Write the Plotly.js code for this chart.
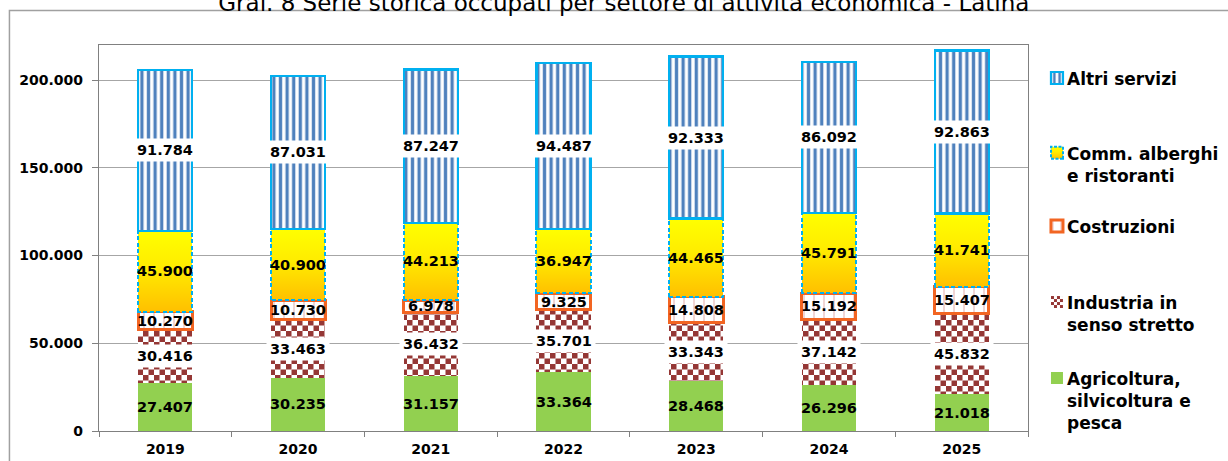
<!DOCTYPE html>
<html>
<head>
<meta charset="utf-8">
<script src="https://cdn.plot.ly/plotly-3.0.1.min.js"></script>
<style>
html,body{margin:0;padding:0;background:#fff;}
#chart{width:1228px;height:461px;}
</style>
</head>
<body>
<svg width="0" height="0" style="position:absolute;left:0;top:0">
  <defs>
    <pattern id="chk" patternUnits="userSpaceOnUse" width="11" height="11">
      <rect width="11" height="11" fill="#ffffff"/>
      <rect x="0" y="0" width="5.5" height="5.5" fill="#953735"/>
      <rect x="5.5" y="5.5" width="5.5" height="5.5" fill="#953735"/>
    </pattern>
    <pattern id="chkLeg" patternUnits="userSpaceOnUse" width="6" height="6">
      <rect width="6" height="6" fill="#ffffff"/>
      <rect x="0" y="0" width="3" height="3" fill="#953735"/>
      <rect x="3" y="3" width="3" height="3" fill="#953735"/>
    </pattern>
    <linearGradient id="grad" x1="0" y1="0" x2="0" y2="1">
      <stop offset="0" stop-color="#FFFF00"/>
      <stop offset="0.45" stop-color="#FFEC00"/>
      <stop offset="1" stop-color="#FFC000"/>
    </linearGradient>
  </defs>
</svg>
<div id="chart"></div>
<script>
// ---- data ----
const years = ['2019', '2020', '2021', '2022', '2023', '2024', '2025'];
const agricoltura = [27407, 30235, 31157, 33364, 28468, 26296, 21018];
const industria = [30416, 33463, 36432, 35701, 33343, 37142, 45832];
const costruzioni = [10270, 10730, 6978, 9325, 14808, 15192, 15407];
const commercio = [45900, 40900, 44213, 36947, 44465, 45791, 41741];
const altriServizi = [91784, 87031, 87247, 94487, 92333, 86092, 92863];
const seriesNames = [
  'Agricoltura,<br>silvicoltura e<br>pesca',
  'Industria in<br>senso stretto',
  'Costruzioni',
  'Comm. alberghi<br>e ristoranti',
  'Altri servizi'
];
const yTicks = [0, 50000, 100000, 150000, 200000];
const yTickLabels = ['0', '50.000', '100.000', '150.000', '200.000'];
const chartTitle = 'Graf. 8 Serie storica occupati per settore di attività economica - Latina';

// ---- helpers ----
const fmt = n => String(n).replace(/\B(?=(\d{3})+(?!\d))/g, '.');
const seriesValues = [agricoltura, industria, costruzioni, commercio, altriServizi];
const legendIds = ['legend5', 'legend4', 'legend3', 'legend2', 'legend'];

const boldFont = {family: 'DejaVu Sans', weight: 'bold', color: '#000000'};

const markers = [
  {color: '#92D050', line: {width: 0}},
  {color: '#953735', pattern: {shape: '+', fgcolor: '#953735', bgcolor: '#ffffff', size: 11, solidity: 0.5}, line: {width: 0}},
  {color: '#ffffff', pattern: {shape: '|', fgcolor: '#E6B9B8', bgcolor: '#ffffff', size: 10, solidity: 0.12}, line: {color: '#F26522', width: 3}},
  {color: '#FFE400', line: {color: '#00B0F0', width: 2}},
  {color: '#4F81BD', pattern: {shape: '|', fgcolor: '#4F81BD', bgcolor: '#ffffff', size: 6.6, solidity: 0.5}, line: {color: '#00B0F0', width: 2.2}}
];

const traces = seriesValues.map((vals, i) => ({
  type: 'bar',
  name: seriesNames[i],
  x: years,
  y: vals,
  marker: markers[i],
  hoverinfo: 'skip',
  textposition: 'none',
  showlegend: true,
  legend: legendIds[i]
}));

// labels at segment midpoints (x given as the category index of each year)
const labelBg = [null, '#ffffff', null, null, '#ffffff'];
const annotations = [];
const base = years.map(() => 0);
seriesValues.forEach((vals, i) => {
  vals.forEach((v, j) => {
    const a = {
      x: j, y: base[j] + v / 2, xref: 'x', yref: 'y',
      text: fmt(v), showarrow: false,
      font: Object.assign({size: 14.5}, boldFont),
      xanchor: 'center', yanchor: 'middle'
    };
    if (labelBg[i]) { a.bgcolor = labelBg[i]; a.borderpad = 3; }
    annotations.push(a);
    base[j] += v;
  });
});

const legendCommon = {
  x: 0.9989, xanchor: 'left', yanchor: 'top',
  bgcolor: 'rgba(0,0,0,0)', borderwidth: 0, valign: 'top',
  font: Object.assign({size: 17}, boldFont),
  itemclick: false, itemdoubleclick: false
};

const layout = {
  width: 1228, height: 461,
  margin: {l: 99, r: 200, t: 45, b: 30, pad: 0, autoexpand: false},
  paper_bgcolor: '#ffffff', plot_bgcolor: '#ffffff',
  barmode: 'stack', bargap: 0.593,
  separators: ',.',
  showlegend: true,
  font: {family: 'DejaVu Sans', size: 14, color: '#000000'},
  title: {
    text: chartTitle,
    font: {family: 'DejaVu Sans', size: 23, color: '#000000'},
    x: 0.508, xanchor: 'center', xref: 'container',
    y: 0.9945, yanchor: 'middle', yref: 'container'
  },
  xaxis: {
    type: 'category', tickson: 'boundaries', ticks: 'outside', ticklen: 5,
    tickcolor: '#808080', showline: true, linecolor: '#808080', linewidth: 1.2,
    mirror: true, showgrid: false, fixedrange: true, range: [-0.5, 6.5],
    ticklabelstandoff: 5,
    tickfont: Object.assign({size: 14}, boldFont)
  },
  yaxis: {
    range: [0, 220000], tickvals: yTicks, ticktext: yTickLabels,
    ticks: 'outside', ticklen: 6, tickcolor: '#808080',
    showline: true, linecolor: '#808080', linewidth: 1.2, mirror: true,
    showgrid: true, gridcolor: '#A6A6A6', gridwidth: 1, zeroline: false,
    fixedrange: true, ticklabelstandoff: 6,
    tickfont: Object.assign({size: 14}, boldFont)
  },
  legend: Object.assign({y: 0.96}, legendCommon),
  legend2: Object.assign({y: 0.766}, legendCommon),
  legend3: Object.assign({y: 0.5765}, legendCommon),
  legend4: Object.assign({y: 0.3796}, legendCommon),
  legend5: Object.assign({y: 0.1828}, legendCommon),
  shapes: [{
    type: 'rect', xref: 'paper', yref: 'paper',
    x0: -0.0964, x1: 1.25, y0: -0.2, y1: 1.0894,
    line: {color: '#A0A0A0', width: 1.5}, fillcolor: 'rgba(0,0,0,0)', layer: 'below'
  }],
  annotations: annotations
};

function restyleDom() {
  const gd = document.getElementById('chart');
  const apply = (trIndex, paths, isLegend) => {
    paths.forEach(p => {
      if (trIndex === 1) {
        p.style.fill = isLegend ? 'url(#chkLeg)' : 'url(#chk)';
      } else if (trIndex === 3) {
        p.style.fill = 'url(#grad)';
        p.style.strokeDasharray = isLegend ? '3,1.5' : '4,2.5';
      }
    });
  };
  gd.querySelectorAll('.barlayer .trace').forEach(tr => {
    const d = tr.__data__;
    if (!d || !d[0] || !d[0].trace) return;
    apply(d[0].trace.index, tr.querySelectorAll('path'), false);
  });
  gd.querySelectorAll('g.traces').forEach(tr => {
    const d = tr.__data__;
    if (!d || !d[0] || !d[0].trace) return;
    const paths = tr.querySelectorAll('.legendpoints path');
    apply(d[0].trace.index, paths, true);
    paths.forEach(p => {
      if (p.getAttribute('data-shifted')) return;
      p.setAttribute('transform', ((p.getAttribute('transform') || '') + ' translate(10,0)').trim());
      p.setAttribute('data-shifted', '1');
    });
  });
}

Plotly.newPlot('chart', traces, layout, {displayModeBar: false, staticPlot: true}).then(gd => {
  restyleDom();
  if (gd.on) gd.on('plotly_afterplot', restyleDom);
});
</script>
</body>
</html>
